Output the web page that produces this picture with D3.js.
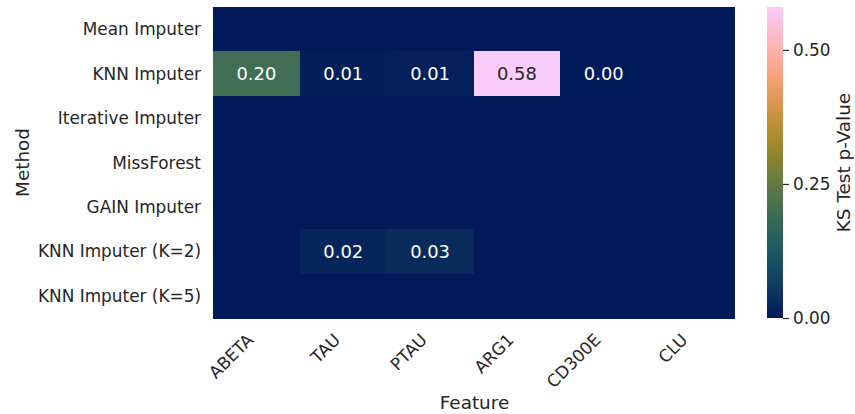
<!DOCTYPE html>
<html>
<head>
<meta charset="utf-8">
<script src="https://cdn.jsdelivr.net/npm/d3@7"></script>
<style>
  html, body { margin: 0; padding: 0; background: #ffffff; }
  svg { display: block; font-family: "DejaVu Sans", sans-serif; }
</style>
</head>
<body>
<svg id="chart" width="855" height="414"></svg>
<script>
// ---- data ----
const methods = ["Mean Imputer", "KNN Imputer", "Iterative Imputer", "MissForest",
                 "GAIN Imputer", "KNN Imputer (K=2)", "KNN Imputer (K=5)"];
const features = ["ABETA", "TAU", "PTAU", "ARG1", "CD300E", "CLU"];
// KS test p-values (rows = methods, cols = features)
const pvalues = [
  [0.0,   0.0,   0.0,   0.0,   0.0,   0.0],
  [0.20,  0.010, 0.011, 0.58,  0.002, 0.0],
  [0.0,   0.0,   0.0,   0.0,   0.0,   0.0],
  [0.0,   0.0,   0.0,   0.0,   0.0,   0.0],
  [0.0,   0.0,   0.0,   0.0,   0.0,   0.0],
  [0.0,   0.021, 0.031, 0.0,   0.0,   0.0],
  [0.0,   0.0,   0.0,   0.0,   0.0,   0.0]
];
// annotation strings as shown in the chart (blank = not annotated)
const annotations = [
  ["", "", "", "", "", ""],
  ["0.20", "0.01", "0.01", "0.58", "0.00", ""],
  ["", "", "", "", "", ""],
  ["", "", "", "", "", ""],
  ["", "", "", "", "", ""],
  ["", "0.02", "0.03", "", "", ""],
  ["", "", "", "", "", ""]
];
const colorbarTicks = [0.00, 0.25, 0.50];
const xTitle = "Feature";
const yTitle = "Method";
const cbTitle = "KS Test p-Value";

// batlow colormap stops
const batlow = ["#011959", "#103F60", "#1C5A62", "#3C6D56", "#687B3E",
                "#9D892B", "#D29343", "#F8A17B", "#FDB7BC", "#FACCFA"];

// ---- layout ----
const svg = d3.select("#chart");
const textColor = "#262626";
const tickFont = 16.9, labelFont = 18.4, annotFont = 17.9;
const plot = { left: 213, right: 734, top: 7, bottom: 318 };
const cb = { left: 767, right: 783 };

const x = d3.scaleBand().domain(features).range([plot.left, plot.right]);
const y = d3.scaleBand().domain(methods).range([plot.top, plot.bottom]);

const vmax = d3.max(pvalues.flat());
const interp = d3.piecewise(d3.interpolateRgb, batlow);
const color = v => interp(Math.max(0, Math.min(1, v / vmax)));

// cells
const cells = [];
methods.forEach((m, i) => features.forEach((f, j) => {
  cells.push({ m, f, v: pvalues[i][j], a: annotations[i][j] });
}));

svg.append("g").selectAll("rect").data(cells).join("rect")
  .attr("x", d => x(d.f))
  .attr("y", d => y(d.m))
  .attr("width", x.bandwidth() + 0.5)
  .attr("height", y.bandwidth() + 0.5)
  .attr("fill", d => color(d.v))
  .attr("shape-rendering", "crispEdges");

function lum(c) {
  const rgb = d3.rgb(c);
  const f = u => { u /= 255; return u <= 0.03928 ? u / 12.92 : Math.pow((u + 0.055) / 1.055, 2.4); };
  return 0.2126 * f(rgb.r) + 0.7152 * f(rgb.g) + 0.0722 * f(rgb.b);
}

svg.append("g").selectAll("text").data(cells.filter(d => d.a !== "")).join("text")
  .attr("x", d => x(d.f) + x.bandwidth() / 2)
  .attr("y", d => y(d.m) + y.bandwidth() / 2)
  .attr("dy", "0.36em")
  .attr("text-anchor", "middle")
  .attr("font-size", annotFont)
  .attr("fill", d => lum(color(d.v)) > 0.408 ? textColor : "#ffffff")
  .text(d => d.a);

// y tick labels
svg.append("g").selectAll("text").data(methods).join("text")
  .attr("x", 201)
  .attr("y", d => y(d) + y.bandwidth() / 2)
  .attr("dy", "0.36em")
  .attr("text-anchor", "end")
  .attr("font-size", tickFont)
  .attr("fill", textColor)
  .text(d => d);

// x tick labels (rotated 45)
svg.append("g").selectAll("text").data(features).join("text")
  .attr("transform", d => `translate(${x(d) + x.bandwidth() / 2 - 2},${plot.bottom + 23}) rotate(-45)`)
  .attr("text-anchor", "end")
  .attr("font-size", tickFont)
  .attr("fill", textColor)
  .text(d => d);

// axis titles
svg.append("text")
  .attr("x", (plot.left + plot.right) / 2 + 1)
  .attr("y", 409)
  .attr("text-anchor", "middle")
  .attr("font-size", labelFont)
  .attr("fill", textColor)
  .text(xTitle);

svg.append("text")
  .attr("transform", `translate(29,${(plot.top + plot.bottom) / 2}) rotate(-90)`)
  .attr("text-anchor", "middle")
  .attr("font-size", labelFont)
  .attr("fill", textColor)
  .text(yTitle);

// colorbar
const cbScale = d3.scaleLinear().domain([0, vmax]).range([plot.bottom, plot.top]);
const defs = svg.append("defs");
const grad = defs.append("linearGradient").attr("id", "cbgrad")
  .attr("x1", 0).attr("y1", 1).attr("x2", 0).attr("y2", 0);
d3.range(0, 1.0001, 0.02).forEach(t => {
  grad.append("stop").attr("offset", t).attr("stop-color", interp(t));
});
svg.append("rect")
  .attr("x", cb.left).attr("y", plot.top)
  .attr("width", cb.right - cb.left).attr("height", plot.bottom - plot.top)
  .attr("fill", "url(#cbgrad)");

const cbAxis = d3.axisRight(cbScale).tickValues(colorbarTicks)
  .tickFormat(d3.format(".2f")).tickSize(6).tickPadding(4);
const cbG = svg.append("g").attr("transform", `translate(${cb.right},0)`).call(cbAxis);
cbG.select(".domain").remove();
cbG.selectAll(".tick line").attr("stroke", textColor).attr("stroke-width", 1.2);
cbG.selectAll(".tick text").attr("font-size", tickFont).attr("fill", textColor)
  .attr("font-family", "DejaVu Sans, sans-serif");

svg.append("text")
  .attr("transform", `translate(850,${(plot.top + plot.bottom) / 2}) rotate(-90)`)
  .attr("text-anchor", "middle")
  .attr("font-size", labelFont)
  .attr("fill", textColor)
  .text(cbTitle);
</script>
</body>
</html>
